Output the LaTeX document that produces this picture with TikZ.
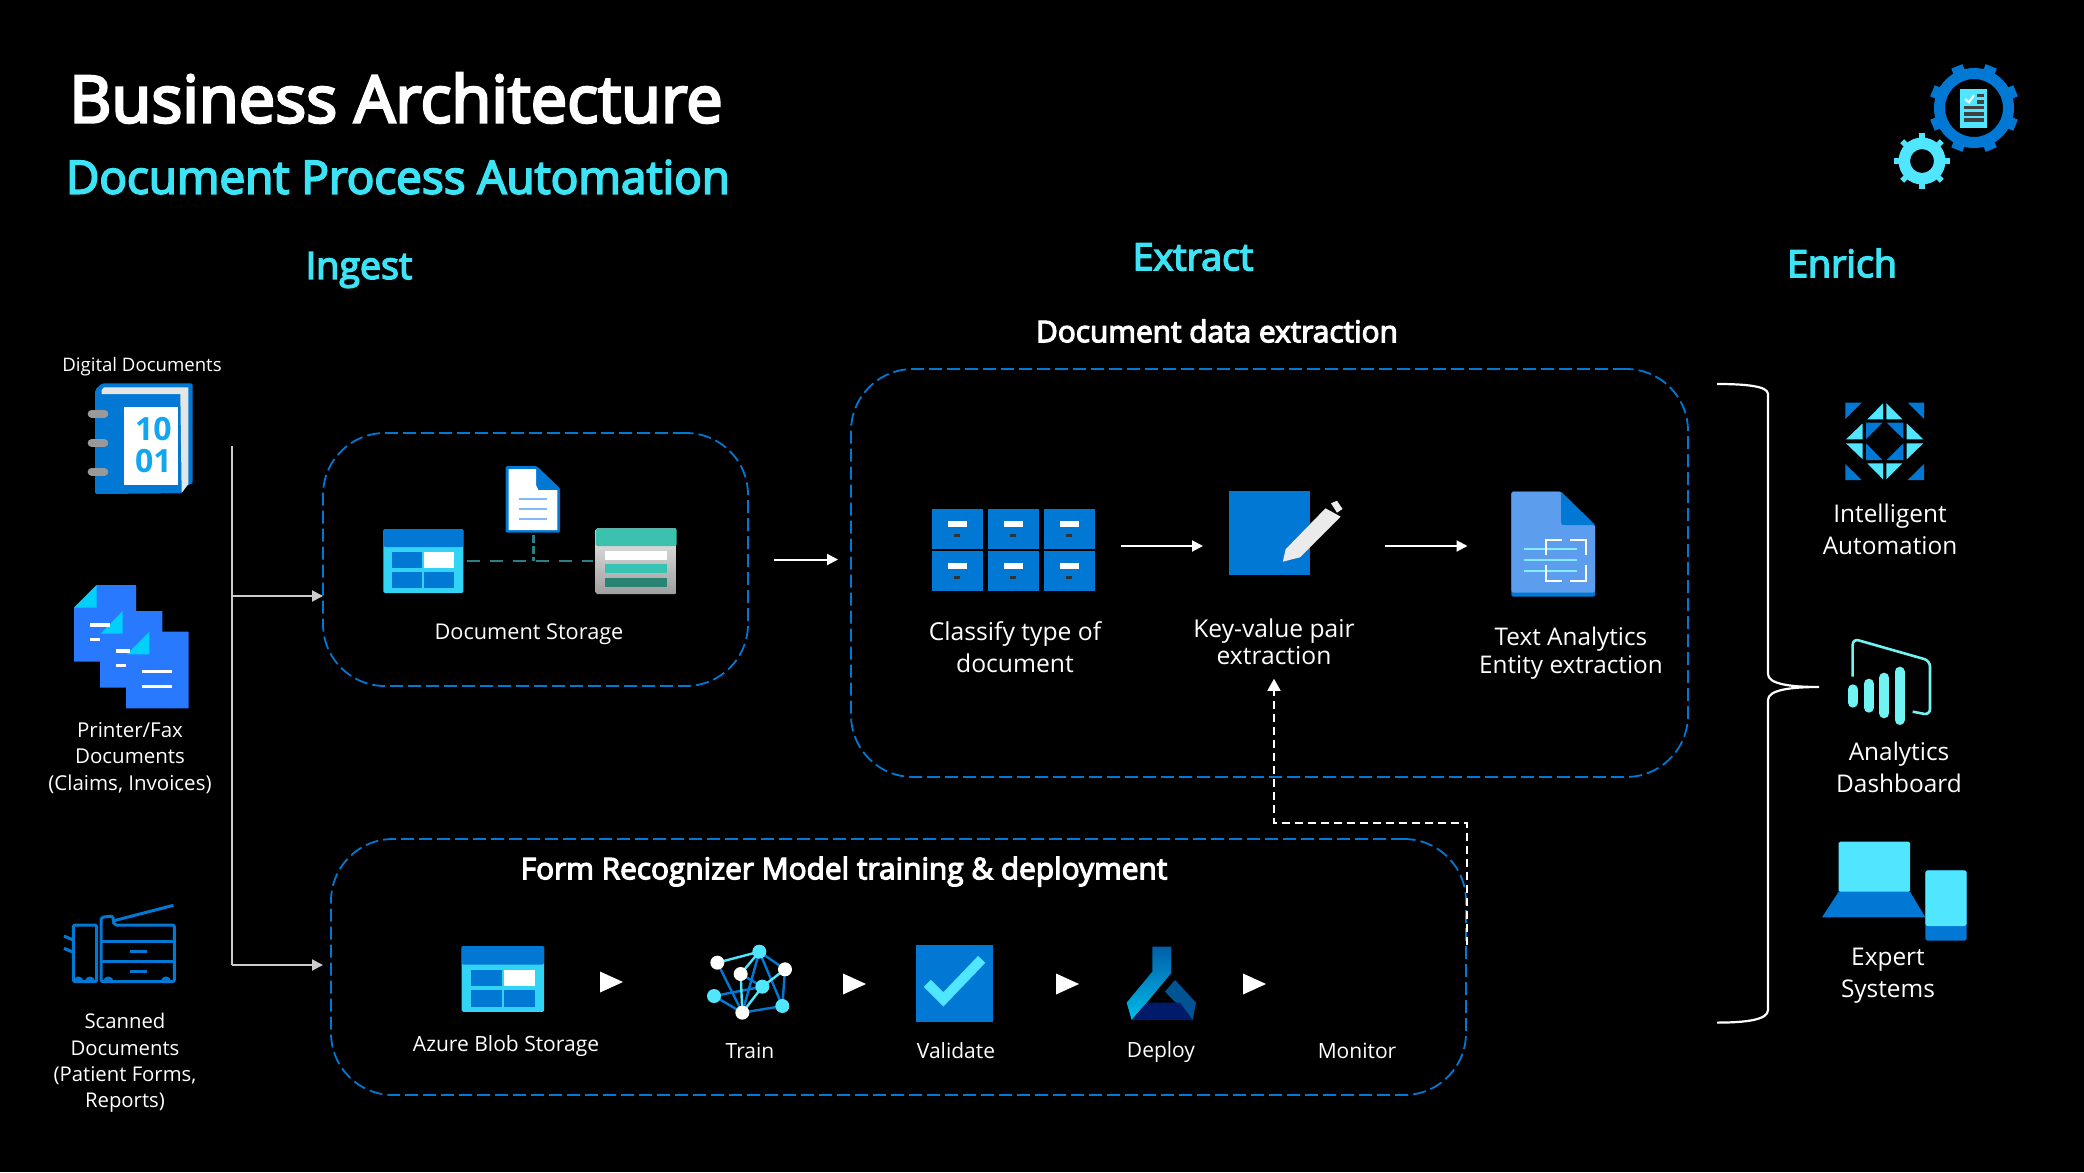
\documentclass[tikz,border=0pt]{standalone}
\usepackage{fontspec}
\setmainfont{Open Sans}
\newfontfamily\headfont[FakeBold=4]{Open Sans}
\usetikzlibrary{arrows.meta,calc}
\definecolor{azure}{HTML}{0078D4}
\definecolor{sky}{HTML}{50E6FF}
\definecolor{headcyan}{HTML}{3CE3F5}
\definecolor{tablecyan}{HTML}{32D4F5}
\definecolor{docblue}{HTML}{2979FF}
\definecolor{foldcyan}{HTML}{00D0FA}
\definecolor{dashteal}{HTML}{2A7F87}
\definecolor{barcyan}{HTML}{6FF3F3}
\definecolor{binaryblue}{HTML}{12A5F0}
\definecolor{tealtop}{HTML}{3BC2AE}
\definecolor{tealmid}{HTML}{37C2B1}
\definecolor{tealdark}{HTML}{2A8272}
\definecolor{pagelight}{HTML}{83B9F9}
\definecolor{textdoc}{HTML}{5C9DEE}
\tikzset{
  title/.style={text=white,font=\headfont\fontsize{65}{76}\selectfont},
  subtitle/.style={text=headcyan,font=\headfont\fontsize{45.8}{54}\selectfont},
  stage/.style={text=headcyan,font=\headfont\fontsize{37.6}{44}\selectfont},
  boxhead/.style={text=white,font=\headfont\fontsize{29.8}{36}\selectfont},
  lbl/.style={text=white,align=center,font=\fontsize{21}{26.5}\selectfont},
  biglbl/.style={text=white,align=center,font=\fontsize{24.4}{32}\selectfont},
  tightlbl/.style={text=white,align=center,font=\fontsize{24.6}{27.5}\selectfont},
  dashbox/.style={draw=azure,line width=1.8pt,dash pattern=on 13pt off 5pt,rounded corners=62pt,inner sep=0pt,outer sep=0pt},
  flow/.style={draw=white,line width=2pt,-{Triangle[length=11pt,width=11pt]}},
  trunk/.style={draw=white!80!black,line width=2pt},
  iconbox/.style={inner sep=0pt,outer sep=0pt},
}
\newcommand{\tableicon}[3]{%
  \begin{scope}[shift={(#1,#2)},scale=#3]
    \fill[tablecyan,rounded corners=1.5pt] (0,0) rectangle (80,64);
    \fill[azure,rounded corners=1.5pt] (0,0) rectangle (80,18);
    \foreach \cx/\cy/\cc in {9/23/azure,41/23/white,9/43/azure,41/43/azure}
      \fill[\cc] (\cx,\cy) rectangle ++(30,16);
  \end{scope}}
\begin{document}
\begin{tikzpicture}[x=1pt,y=-1pt]
  \path[use as bounding box,fill=black] (0,0) rectangle (2084,1172);

  \node[title] (maintitle) at (396,98) {Business Architecture};
  \node[subtitle] (subhead) at (398,177) {Document Process Automation};
  \node[stage] (ingest) at (359,270) {Ingest};
  \node[stage] (extract) at (1193,257) {Extract};
  \node[stage] (enrich) at (1842,263) {Enrich};

  % gears
  \begin{scope}[shift={(1974,108)}]
    \fill[azure,even odd rule] (0,0) circle (40) (0,0) circle (29);
    \foreach \ang in {22.5,67.5,...,337.5}
      \fill[azure,rotate=\ang] (36,-6) rectangle (45,6);
  \end{scope}
  \begin{scope}[shift={(1922,161)}]
    \fill[sky,even odd rule] (0,0) circle (23.5) (0,0) circle (12);
    \foreach \ang in {0,45,...,315}
      \fill[sky,rotate=\ang] (20,-2.8) rectangle (28,2.8);
  \end{scope}
  \begin{scope}[shift={(1840,40)},scale=1/3]
    \fill[sky] (360,147) rectangle (442,263);
    \foreach \ly in {197,216,234}
      \fill[black!75] (372,\ly) rectangle (431,\ly+11);
    \foreach \ly in {161,180}
      \fill[black!75] (412,\ly) rectangle (431,\ly+11);
    \draw[white,line width=2pt] (375,177) -- (387,187) -- (402,165);
  \end{scope}

  % digital documents
  \node[lbl,font=\fontsize{18.6}{24}\selectfont] (digitallbl) at (142,366.5) {Digital Documents};
  \begin{scope}[shift={(40,340)},scale=1/3]
    \fill[azure,rounded corners=2pt] (165,150) -- (185,130) -- (458,130) -- (458,432) -- (445,432) -- (425,460) -- (165,462) -- cycle;
    \fill[black!10] (185,150) -- (192,142) -- (445,142) -- (445,432) -- (425,458) -- (421,162) -- (185,162) -- cycle;
    \fill[white] (252,200) rectangle (414,434);
    \foreach \ly in {221,309,395}
      \draw[black!40,line width=8pt,line cap=round] (155,\ly) -- (193,\ly);
    \node[iconbox,text=binaryblue,font=\bfseries\fontsize{32}{32}\selectfont,align=center] (binary) at (340,316) {10\\[0pt]01};
  \end{scope}

  % printer/fax documents
  \node[lbl,font=\fontsize{20.5}{26.5}\selectfont] (printerlbl) at (130,758) {Printer/Fax\\Documents\\(Claims, Invoices)};
  \begin{scope}[shift={(40,340)},scale=1/3]
    \fill[docblue] (102,803) -- (170,735) -- (288,735) -- (288,813) -- (367,813) -- (367,875) -- (446,875) -- (446,1105) -- (258,1105) -- (258,1043) -- (180,1043) -- (180,965) -- (102,965) -- cycle;
    \fill[foldcyan] (102,803) -- (170,735) -- (170,803) -- cycle;
    \fill[foldcyan] (182,881) -- (248,813) -- (248,881) -- cycle;
    \fill[foldcyan] (260,943) -- (328,875) -- (328,943) -- cycle;
    \foreach \lx/\ly/\lw in {150/850/60,150/894/30,228/928/42,228/972/30,306/990/90,306/1035/90}
      \fill[white] (\lx,\ly) rectangle ++(\lw,10);
  \end{scope}

  % scanned documents
  \node[lbl,font=\fontsize{20.3}{26.3}\selectfont] (scannedlbl) at (125,1063) {Scanned\\Documents\\(Patient Forms,\\Reports)};
  \begin{scope}[shift={(40,880)},scale=1/3,azure,line width=3pt,line join=round]
    \draw[rounded corners=2pt] (100,305) -- (100,135) -- (170,135) -- (170,305) -- cycle;
    \draw (72,168) -- (100,180) (72,205) -- (100,217);
    \draw[rounded corners=2pt] (183,305) -- (183,112) -- (218,108) -- (222,135) -- (403,135) -- (403,305) -- cycle;
    \draw (222,122) -- (400,76);
    \draw (183,183) -- (403,183) (183,245) -- (403,245);
    \draw (270,213) -- (320,213) (270,275) -- (320,275);
    \foreach \wx in {115,150,205,378}
      \draw (\wx-11,305) arc (180:360:11);
  \end{scope}

  % ingest trunk
  \coordinate (trunktop) at (232,446);
  \coordinate (trunkmid) at (232,596);
  \coordinate (trunkend) at (232,965);

  \node[dashbox,minimum width=425pt,minimum height=253pt] (storagebox) at (535.5,559.5) {};
  \node[dashbox,minimum width=837pt,minimum height=408pt] (extractbox) at (1269.5,573) {};
  \node[dashbox,minimum width=1135pt,minimum height=256pt] (formbox) at (898.5,967) {};

  \draw[trunk] (trunktop) -- (trunkend);
  \draw[trunk,-{Triangle[length=11pt,width=11pt]}] (trunkmid) -- (trunkmid -| storagebox.west);
  \draw[trunk,shorten >=8pt,-{Triangle[length=11pt,width=11pt]}] (trunkend) -- (trunkend -| formbox.west);

  % document storage
  \begin{scope}[shift={(360,450)},scale=1/3]
    \draw[dashteal,line width=2.4pt,dash pattern=on 13pt off 10pt] (320,333) -- (700,333);
    \draw[dashteal,line width=2.4pt,dash pattern=on 8pt off 3pt] (520,255) -- (520,333);
    \fill[azure,rounded corners=1.5pt] (437,48) -- (530,48) -- (600,115) -- (600,248) -- (437,248) -- cycle;
    \fill[white] (446,57) -- (528,57) -- (528,105) -- (535,120) -- (592,120) -- (592,240) -- (446,240) -- cycle;
    \foreach \ly in {147,176,206}
      \draw[pagelight,line width=2.2pt] (478,\ly) -- (560,\ly);
    \shade[top color=black!8,bottom color=black!38,rounded corners=1.5pt] (707,235) rectangle (950,432);
    \fill[tealtop,rounded corners=1.5pt] (707,235) rectangle (950,288);
    \fill[white] (736,303) rectangle (920,330);
    \fill[tealmid] (736,343) rectangle (920,370);
    \fill[tealdark] (736,384) rectangle (920,411);
  \end{scope}
  \tableicon{383.3}{529}{1}
  \node[lbl,font=\fontsize{21.7}{26.5}\selectfont] (storagelbl) at (529,634) {Document Storage};

  \node[boxhead] (extracthead) at (1217,331) {Document data extraction};

  % classify
  \node[iconbox,minimum width=162pt,minimum height=82pt] (classifyicon) at (1013,546) {};
  \foreach \cx in {932,988,1044}
    \foreach \cy in {509,551} {
      \fill[azure] (\cx,\cy) rectangle ++(50.5,40);
      \fill[white] (\cx+16,\cy+12) rectangle ++(19,5.5);
      \fill[black!80] (\cx+22,\cy+25) rectangle ++(6,3);
    }
  \node[biglbl,font=\fontsize{24.7}{32}\selectfont] (classifylbl) at (1015,647) {Classify type of\\document};

  % key-value pair
  \node[iconbox,fill=azure,minimum width=81pt,minimum height=84pt] (keyicon) at (1269.5,533) {};
  \fill[black!8] (1282.8,561.7) -- (1285.6,549.3) -- (1325.5,508.3) -- (1340.7,516.7) -- (1300,557.3) -- cycle;
  \fill[black!8] (1331,503.3) -- (1337,500.7) -- (1342.5,509) -- (1337,512.7) -- cycle;
  \node[tightlbl] (keylbl) at (1274,642) {Key-value pair\\extraction};

  % text analytics
  \node[iconbox,minimum width=83.5pt,minimum height=105pt] (texticon) at (1553.25,544.2) {};
  \begin{scope}[shift={(910,470)},xscale=1/2.178,yscale=1/3]
    \fill[azure,rounded corners=1.5pt] (1310,65) -- (1418,65) -- (1492,165) -- (1492,380) -- (1310,380) -- cycle;
    \fill[textdoc,rounded corners=1.5pt] (1310,65) -- (1418,65) -- (1418,165) -- (1492,165) -- (1492,368) -- (1310,368) -- cycle;
    \fill[azure] (1418,65) -- (1492,165) -- (1430,165) -- (1418,150) -- cycle;
    \foreach \ly in {236,270,304}
      \draw[sky!70!white,line width=2.2pt] (1338,\ly) -- (1453,\ly);
    \draw[white,line width=1.8pt] (1420,210) -- (1385,210) -- (1385,255)
      (1437,210) -- (1473,210) -- (1473,255)
      (1385,285) -- (1385,333) -- (1420,333)
      (1473,285) -- (1473,333) -- (1437,333);
  \end{scope}
  \node[tightlbl,font=\fontsize{24.3}{27.5}\selectfont] (textlbl) at (1571,653) {Text Analytics\\Entity extraction};

  \draw[flow,shorten >=13pt,shorten <=26pt] (storagebox.east) -- (storagebox.east -| extractbox.west);
  \draw[flow,shorten <=27pt,shorten >=26pt] (classifyicon.east) -- (classifyicon.east -| keyicon.west);
  \draw[flow,shorten <=75pt,shorten >=44pt] (keyicon.east |- classifyicon.east) -- (classifyicon.east -| texticon.west);

  % form recognizer
  \node[boxhead] (formhead) at (844,871.5) {Form Recognizer Model training \& deployment};
  \tableicon{461.7}{946}{1.03}
  \node[lbl] (bloblbl) at (506,1046) {Azure Blob Storage};
  \begin{scope}[shift={(440,920)},scale=1/3]
    \foreach \ex/\ey/\fx/\fy in {832/128/907/278,958/95/1035/148,958/95/907/278,958/95/1027/258,1035/148/1027/258,822/228/967/200,822/228/907/278,907/278/1027/258,902/162/967/200}
      \draw[azure,line width=2.4pt] (\ex,\ey) -- (\fx,\fy);
    \foreach \ex/\ey/\fx/\fy in {832/128/958/95,902/162/958/95,967/200/1035/148,967/200/907/278,902/162/907/278}
      \draw[sky,line width=2.4pt] (\ex,\ey) -- (\fx,\fy);
    \foreach \nx/\ny in {958/95,967/200,822/228,1027/258}
      \fill[sky] (\nx,\ny) circle (21);
    \foreach \nx/\ny in {832/128,902/162,1035/148,907/278}
      \fill[white] (\nx,\ny) circle (21);
  \end{scope}
  \node[lbl] (trainlbl) at (750,1051) {Train};
  \node[iconbox,fill=azure,minimum size=77pt] (validateicon) at (954.2,983.3) {};
  \begin{scope}[shift={(880,920)},scale=1/3]
    \draw[sky,line width=10pt] (142,190) -- (190,238) -- (305,118);
    \shade[top color=azure!80!black,bottom color=cyan!50!azure] (817,80) -- (873,80) -- (873,160) -- (800,248) -- (755,300) -- (740,248) -- (817,155) -- cycle;
    \fill[azure!70!black] (885,180) -- (948,248) -- (938,300) -- (855,215) -- cycle;
    \fill[blue!50!azure!45!black] (755,300) -- (800,248) -- (900,248) -- (938,300) -- cycle;
  \end{scope}
  \node[lbl] (validatelbl) at (956,1051) {Validate};
  \node[lbl] (deploylbl) at (1161,1052) {Deploy};
  \node[lbl] (monitorlbl) at (1357,1051) {Monitor};
  \foreach \px/\py in {600/982,843/984,1056/984,1243/984}
    \fill[white] (\px,\py-10.5) -- (\px+23,\py) -- (\px,\py+10.5) -- cycle;

  % feedback into key-value
  \coordinate (formside) at (1467,945);
  \coordinate (fbbend) at (1274,823);
  \draw[white,line width=1.7pt,dash pattern=on 8pt off 5pt,shorten >=10pt,-{Triangle[length=12pt,width=13pt]}] (formside) |- (fbbend) -- (keylbl.south);

  % brace
  \coordinate (bracetop) at (1717,384);
  \coordinate (bracetip) at (1819,687);
  \coordinate (braceend) at (1717,1022.6);
  \draw[white,line width=2.2pt] (bracetop) .. controls (1745,384) and (1768,386) .. (1768,394) -- (1768,674) .. controls (1768,684) and (1790,687) .. (bracetip) .. controls (1790,687) and (1768,690) .. (1768,700) -- (1768,1010) .. controls (1768,1020) and (1745,1022.6) .. (braceend);

  % intelligent automation
  \begin{scope}[shift={(1780,380)},scale=1/3]
    \foreach \ta/\tb/\tc/\td/\te/\tf in {196/68/245/68/196/117,432/68/383/68/432/117,196/300/196/252/245/300,432/300/432/252/383/300,258/128/307/128/258/177,320/128/370/128/370/177,258/190/258/240/307/240,370/190/370/240/320/240}
      \fill[azure] (\ta,\tb) -- (\tc,\td) -- (\te,\tf) -- cycle;
    \foreach \ta/\tb/\tc/\td/\te/\tf in {262/118/309/70/309/118,319/70/319/118/367/118,198/178/248/130/248/178,380/130/380/178/430/178,198/190/248/190/248/238,380/190/430/190/380/238,262/250/309/250/309/298,319/250/367/250/319/298}
      \fill[sky] (\ta,\tb) -- (\tc,\td) -- (\te,\tf) -- cycle;
  \end{scope}
  \node[biglbl] (automationlbl) at (1890,529) {Intelligent\\Automation};

  % analytics dashboard
  \begin{scope}[shift={(1830,630)},scale=1/3]
    \draw[barcyan,line width=2.6pt,rounded corners=6pt] (68,140) -- (68,26) -- (300,92) -- (300,255) -- (248,245);
    \foreach \bx/\bt/\bb in {68/163/233,116/146/248,163/128/265,209/110/285}
      \draw[barcyan,line width=10pt,line cap=round] (\bx,\bt+15) -- (\bx,\bb-15);
  \end{scope}
  \node[biglbl] (dashboardlbl) at (1899,767) {Analytics\\Dashboard};

  % expert systems
  \begin{scope}[shift={(1780,820)},scale=1/3]
    \fill[sky,rounded corners=1.5pt] (176,65) rectangle (390,216);
    \fill[azure] (176,215) -- (390,215) -- (436,292) -- (126,292) -- cycle;
    \fill[azure,rounded corners=2.5pt] (436,151) rectangle (560,362);
    \fill[sky,rounded corners=2.5pt] (436,318) -- (436,151) -- (560,151) -- (560,318) -- cycle;
  \end{scope}
  \node[biglbl] (expertlbl) at (1888,976) {Expert\\Systems};
\end{tikzpicture}
\end{document}
